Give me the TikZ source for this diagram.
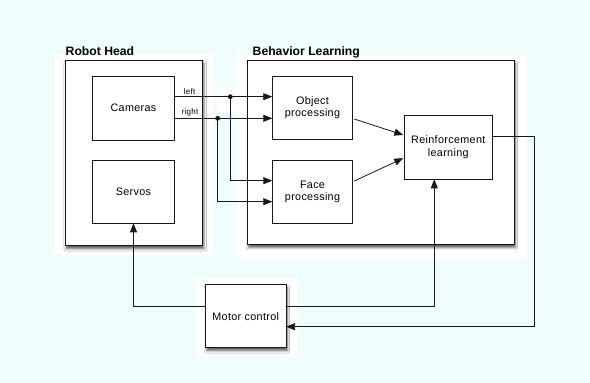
\documentclass[tikz,border=0pt]{standalone}
\usepackage{fontspec}
\setmainfont{Liberation Sans}
\newfontfamily\spaced[LetterSpace=3]{Liberation Sans}
\usetikzlibrary{arrows.meta,shadows.blur}
\definecolor{bgc}{RGB}{239,253,254}
\definecolor{ln}{RGB}{25,25,25}
\tikzset{
  ln/.style={draw=ln, line width=0.8pt},
  arr/.style={ln, -{Triangle[length=9pt,width=7pt]}},
  box/.style={ln, fill=white, rectangle, inner sep=0pt, outer sep=0pt, align=center,
    font=\spaced\fontsize{10.8}{12.8}\selectfont},
  container/.style={ln, fill=white, rectangle, inner sep=0pt, outer sep=0pt,
    blur shadow={shadow xshift=1.2pt, shadow yshift=-3pt, shadow blur radius=2.4pt, shadow opacity=65}},
  shbox/.style={box, blur shadow={shadow xshift=1.2pt, shadow yshift=-3pt, shadow blur radius=2.4pt, shadow opacity=65}},
  ttl/.style={font=\bfseries\fontsize{12.2}{13}\selectfont, inner sep=0pt, anchor=base west},
  lbl/.style={font=\spaced\fontsize{8}{9}\selectfont, inner sep=0pt, anchor=base east},
  dot/.style={circle, fill=ln, inner sep=0pt, minimum size=4.8pt}
}
\begin{document}
\begin{tikzpicture}[x=1pt,y=-1pt]
\fill[bgc] (0,0) rectangle (590,383);
\useasboundingbox (0,0) rectangle (590,383);
% white backgrounds
\fill[white] (54,54.3) rectangle (213,255);
\fill[white] (237.3,55) rectangle (526,259.3);
\fill[white] (216.5,88) rectangle (237.3,112);
\fill[white] (196,278.3) rectangle (296.7,357);
% containers
\node[container, minimum width=137.7pt, minimum height=185.7pt] (head) at (133.9,152.9) {};
\node[container, minimum width=266.7pt, minimum height=183.8pt] (beh) at (380.7,152.6) {};
\node[ttl] (thead) at (65.5,55) {Robot Head};
\node[ttl] (tbeh) at (252.5,55) {Behavior Learning};
% boxes
\node[box, minimum width=81.6pt, minimum height=64pt] (cam) at (133.5,108) {Cameras};
\node[box, minimum width=81.6pt, minimum height=63.3pt] (serv) at (133.5,191.7) {Servos};
\node[box, minimum width=80.4pt, minimum height=63.3pt] (obj) at (312.5,107.7) {Object\\processing};
\node[box, minimum width=80.4pt, minimum height=62.6pt] (face) at (312.5,192) {Face\\processing};
\node[box, minimum width=88pt, minimum height=64.3pt] (rl) at (448.3,147.2) {Reinforcement\\learning};
\node[shbox, minimum width=80.7pt, minimum height=63pt] (mot) at (245.7,316.2) {Motor control};
% camera outputs
\coordinate (ol) at ([yshift=11pt]obj.west);
\coordinate (or) at ([yshift=-10.6pt]obj.west);
\coordinate (fl) at ([yshift=11.3pt]face.west);
\coordinate (fr) at ([yshift=-9.7pt]face.west);
\coordinate (dl) at (230.3,96.7);
\coordinate (dr) at (217.7,118.3);
\draw[arr] (cam.east |- ol) -- (ol);
\draw[arr] (cam.east |- or) -- (or);
\draw[arr] (dl) |- (fl);
\draw[arr] (dr) |- (fr);
\node[dot] (ndl) at (dl) {};
\node[dot] (ndr) at (dr) {};
\node[lbl] (tl) at (195.5,94.3) {left};
\node[lbl] (tr) at (198.5,114.5) {right};
% to RL
\draw[arr] ([xshift=1.6pt,yshift=-11.3pt]obj.east) -- ([xshift=-1pt,yshift=12.2pt]rl.west);
\draw[arr] ([xshift=1.6pt,yshift=11pt]face.east) -- ([xshift=-1pt,yshift=-11pt]rl.west);
% feedback
\coordinate (cr) at (534,136.7);
\draw[arr] (rl.east |- cr) -- (cr) |- ([yshift=-10.5pt]mot.east);
\draw[arr] ([yshift=9.5pt]mot.west) -| (serv.south);
\draw[arr] ([yshift=9.5pt]mot.east) -| ([xshift=-14pt]rl.south);
\end{tikzpicture}
\end{document}
